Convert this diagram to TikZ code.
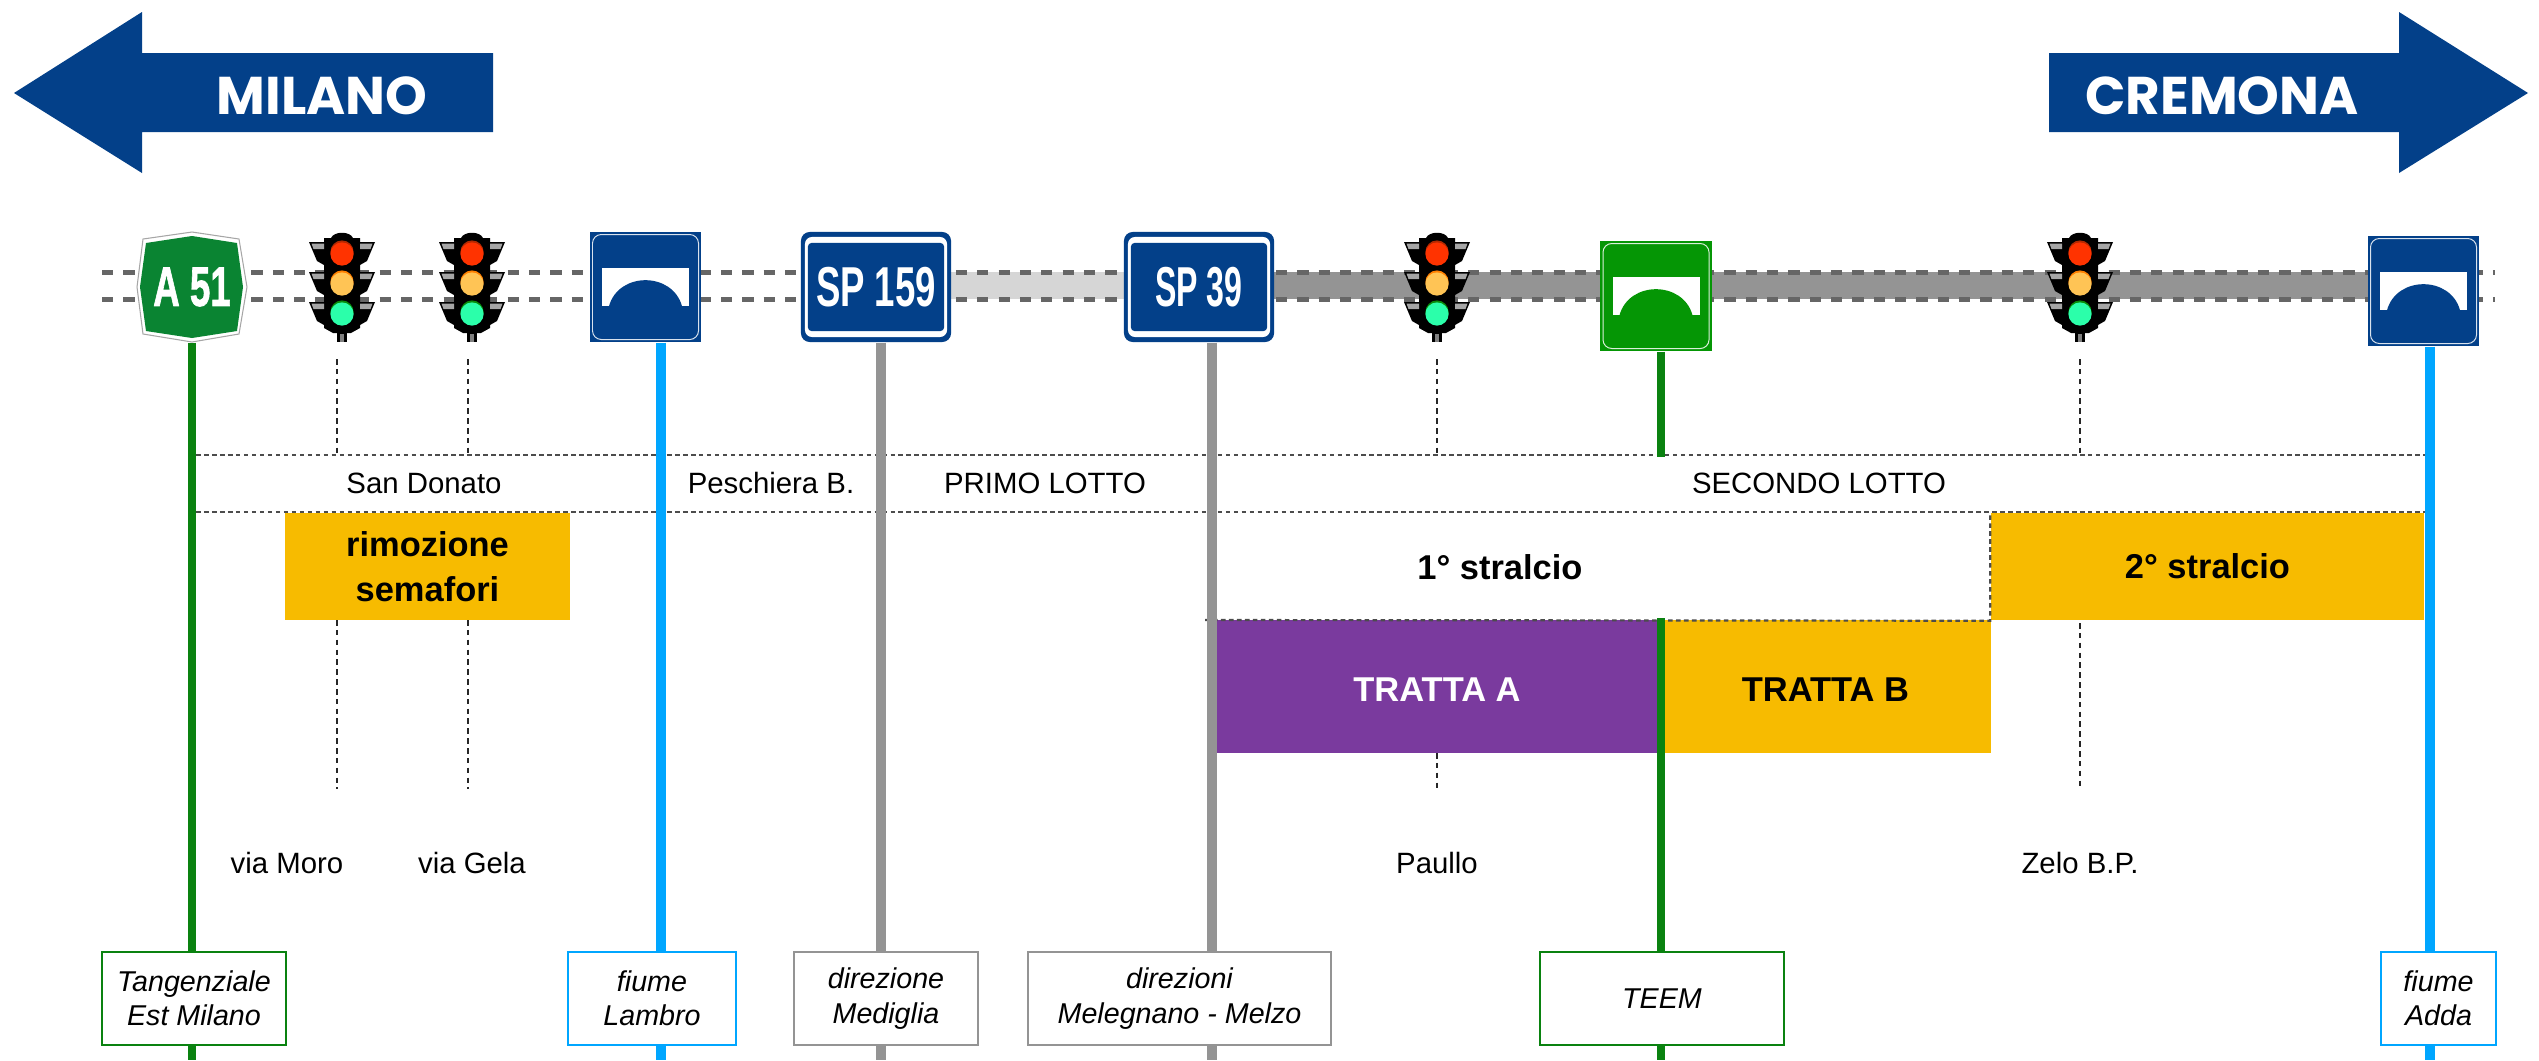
\documentclass[tikz,border=0pt]{standalone}
\usepackage{fontspec}
\setmainfont{Liberation Sans}
\newfontfamily\cityfont{Poppins}
\newfontfamily\heavyfont[BoldFeatures={FakeBold=1.6}]{Liberation Sans}
\definecolor{roadblue}{HTML}{034089}
\definecolor{signgreen}{HTML}{059605}
\definecolor{autogreen}{HTML}{0A8432}
\definecolor{linegreen}{HTML}{0A8210}
\definecolor{riverblue}{HTML}{00A6FF}
\definecolor{linegrey}{HTML}{949494}
\definecolor{bandlight}{HTML}{D6D6D6}
\definecolor{laneg}{HTML}{666666}
\definecolor{lotorange}{HTML}{F7BB00}
\definecolor{lotpurple}{HTML}{7A3A9E}
\definecolor{redlit}{HTML}{FF3300}
\definecolor{reddark}{HTML}{B32800}
\definecolor{amberlit}{HTML}{FFC455}
\definecolor{amberdark}{HTML}{FF8000}
\definecolor{greenlit}{HTML}{2BFFAA}
\definecolor{greendark}{HTML}{0A8A0A}
\newcommand{\stretto}[2]{\scalebox{#1}[1]{#2}}
\newcommand{\abbassa}[1]{\raisebox{-0.9pt}[\height][\depth]{#1}}
\tikzset{
  cityarrow/.style={fill=roadblue},
  citytext/.style={text=white,inner sep=0pt,font=\cityfont\bfseries\fontsize{15.1}{18}\selectfont},
  lane/.style={laneg,line width=1.42pt,dash pattern=on 3.2pt off 2.87pt},
  bridgesign/.style={fill=#1,minimum width=1.11cm,minimum height=1.10cm,inner sep=0pt},
  spsign/.style={fill=roadblue,rounded corners=2.5pt,minimum width=1.50cm,minimum height=1.10cm,inner sep=0pt,
    text=white,font=\bfseries\fontsize{16}{18}\selectfont,
    path picture={
      \fill[white,rounded corners=2pt] ([shift={(4,5)}]path picture bounding box.north west) rectangle ([shift={(-4,-5)}]path picture bounding box.south east);
      \fill[roadblue,rounded corners=1pt] ([shift={(7,11)}]path picture bounding box.north west) rectangle ([shift={(-7,-11)}]path picture bounding box.south east);
    }},
  lotbox/.style={fill=#1,inner sep=0pt,align=center,font=\bfseries\fontsize{9.8}{12.7}\selectfont},
  rowtext/.style={inner sep=0pt,font=\fontsize{8.35}{9.6}\selectfont},
  placebox/.style={draw=#1,fill=white,line width=0.7pt,inner sep=0pt,minimum height=0.93cm,align=center,font=\itshape\fontsize{8.15}{9.8}\selectfont},
  roadline/.style={draw=#1,line width=2.3pt},
  rowdots/.style={draw=black!70,line width=0.62pt,dash pattern=on 1.3pt off 0.97pt},
  townline/.style={draw=black!85,line width=0.42pt,dash pattern=on 1.6pt off 1.2pt},
  pics/semaforo/.style={code={
    \fill[black] (-18,-45) -- (-11,-45) .. controls (-8,-52) and (8,-52) .. (11,-45) -- (18,-45) -- (18,45) -- (9,50) -- (-9,50) -- (-18,45) -- cycle;
    \fill[black] (-5,50) rectangle (5,59);
    \fill[gray] (-2,51) rectangle (2,59);
    \foreach \ly/\lampdark/\lamplit in {-30/reddark/redlit,0/amberdark/amberlit,30/greendark/greenlit}{
      \foreach \side in {-1,1}{
        \fill[black] (\side*33,\ly-11) -- (\side*18,\ly-11) -- (\side*18,\ly+12) -- (\side*25,\ly+8) -- cycle;
        \fill[gray!70] (\side*30.5,\ly-9.5) -- (\side*18,\ly-9.5) -- (\side*18,\ly-4) -- (\side*28.5,\ly-4) -- cycle;
      }
      \fill[\lampdark] (0,\ly-1) circle (11.6);
      \fill[\lamplit] (0,\ly+1) circle (11.6);
    }
  }},
  pics/ponte/.style={code={
    \draw[white!85!#1,line width=0.28pt,rounded corners=2.5pt] (-53,-52.5) rectangle (53,52.5);
    \fill[white] (-43.5,-19) rectangle (43.5,19);
    \fill[#1] (-36.5,19.2) .. controls (-27,-15.5) and (27,-15.5) .. (36.5,19.2) -- cycle;
  }},
}

\begin{document}
\begin{tikzpicture}[x=0.01cm,y=-0.01cm]
\useasboundingbox (0,0) rectangle (2539,1060);
\fill[cityarrow] (14,93) -- (142,12) -- (142,53) -- (493,53) -- (493,132) -- (142,132) -- (142,173) -- cycle; % to Milano
\node[citytext] (milano) at (322,96) {MILANO};
\fill[cityarrow] (2528,93) -- (2399,12) -- (2399,53) -- (2049,53) -- (2049,132) -- (2399,132) -- (2399,173) -- cycle; % to Cremona
\node[citytext] (cremona) at (2222,96) {CREMONA};

\fill[bandlight] (951,272) rectangle (1124,299); % primo lotto
\fill[linegrey] (1274,272) rectangle (2368,299); % secondo lotto
\draw[lane] (102,272) -- (2495,272);
\draw[lane] (102,299) -- (2495,299);

\fill[white,draw=gray!70,line width=0.3pt] (192,232) -- (239,239) -- (247,287) -- (239,334) -- (192,342) -- (143,334) -- (137,287) -- (143,239) -- cycle; % A51 rim
\fill[autogreen] (192,236) -- (237,243) -- (243,287) -- (237,331) -- (192,338) -- (146,331) -- (140,287) -- (146,243) -- cycle;
\node[text=white,inner sep=0pt,minimum width=1.04cm,minimum height=1.10cm,font=\heavyfont\bfseries\fontsize{15.8}{18}\selectfont] (a51) at (192,287) {\stretto{0.66}{A 51}};
\node[bridgesign=roadblue] (lambro) at (645.5,287) {};
\pic at (645.5,287) {ponte=roadblue};
\node[spsign] (sp159) at (876,287) {\stretto{0.65}{SP 159}};
\node[spsign] (sp39) at (1199,287) {\stretto{0.57}{SP 39}};
\node[bridgesign=signgreen] (teem) at (1656,296) {};
\pic at (1656,296) {ponte=signgreen};
\node[bridgesign=roadblue] (adda) at (2423.5,291) {};
\pic at (2423.5,291) {ponte=roadblue};
\pic at (342,283) {semaforo}; % via Moro
\pic at (472,283) {semaforo}; % via Gela
\pic at (1437,283) {semaforo}; % Paullo
\pic at (2080,283) {semaforo}; % Zelo

\node[lotbox=lotorange,minimum width=2.85cm,minimum height=1.07cm] (rimozione) at (427.5,566.5) {rimozione\\semafori};
\node[lotbox=lotorange,minimum width=4.33cm,minimum height=1.07cm] (stralcio2) at (2207.5,566.5) {2° stralcio};
\node[lotbox=lotpurple,text=white,minimum width=4.42cm,minimum height=1.33cm] (trattaA) at (1437,686.5) {\abbassa{TRATTA A}};
\node[lotbox=lotorange,minimum width=3.33cm,minimum height=1.33cm] (trattaB) at (1824.5,686.5) {\abbassa{\hspace{0.5pt}TRATTA B}};
\node[lotbox=white] (stralcio1) at (1500,567) {1° stralcio};

\coordinate (rowW) at (196,455);
\coordinate (rowE) at (2435,455);
\draw[rowdots] (rowW) -- (rowE); % top of the row
\draw[rowdots] (rowW |- 0,512) -- (rowE |- 0,512); % bottom of the row
\draw[rowdots] (1205,620) -- (stralcio2.south west) -- (stralcio2.north west); % 1 stralcio

\node[rowtext] (sandonato) at (424,483) {San Donato};
\node[rowtext] (peschiera) at (771,483) {Peschiera B.};
\node[rowtext] (primo) at (1045,483) {PRIMO LOTTO};
\node[rowtext] (secondo) at (1819,483) {SECONDO LOTTO};
\node[rowtext] (viamoro) at (287,863) {via Moro};
\node[rowtext] (viagela) at (472,863) {via Gela};
\node[rowtext] (paullo) at (1437,863) {Paullo};
\node[rowtext] (zelo) at (2080,863) {Zelo B.P.};

\draw[townline] (337,359) -- (337,455);
\draw[townline] (468,359) -- (468,455);
\draw[townline] (1437,359) -- (1437,455);
\draw[townline] (2080,359) -- (2080,455);
\draw[townline] (337,620) -- (337,789);
\draw[townline] (468,620) -- (468,789);
\draw[townline] (1437,753) -- (1437,789);
\draw[townline] (2080,623) -- (2080,789);

\node[placebox=linegreen,minimum width=1.84cm] (tang) at (194,998.5) {Tangenziale\\Est Milano};
\node[placebox=riverblue,minimum width=1.68cm] (flambro) at (652,998.5) {fiume\\Lambro};
\node[placebox=linegrey,minimum width=1.84cm] (mediglia) at (886,998.5) {direzione\\Mediglia};
\node[placebox=linegrey,minimum width=3.03cm] (melzo) at (1179.5,998.5) {direzioni\\Melegnano - Melzo};
\node[placebox=linegreen,minimum width=2.44cm] (lteem) at (1662,998.5) {TEEM};
\node[placebox=riverblue,minimum width=1.15cm] (fadda) at (2438.5,998.5) {fiume\\Adda};

\coordinate (foottang) at (192,1060);
\coordinate (footlambro) at (661,1060);
\coordinate (footmediglia) at (881,1060);
\coordinate (footmelzo) at (1212,1060);
\coordinate (footteem) at (1661,1060);
\coordinate (footadda) at (2430,1060);
\coordinate (teemup) at (1661,457);
\coordinate (teemdown) at (1661,618);

\draw[roadline=linegreen] (a51.south -| foottang) -- (tang.north -| foottang);
\draw[roadline=linegreen] (tang.south -| foottang) -- (foottang);
\draw[roadline=riverblue,line width=2.83pt] (lambro.south -| footlambro) -- (flambro.north -| footlambro);
\draw[roadline=riverblue,line width=2.83pt] (flambro.south -| footlambro) -- (footlambro);
\draw[roadline=linegrey,line width=3.1pt] (sp159.south -| footmediglia) -- (mediglia.north -| footmediglia);
\draw[roadline=linegrey,line width=3.1pt] (mediglia.south -| footmediglia) -- (footmediglia);
\draw[roadline=linegrey,line width=3.1pt] (sp39.south -| footmelzo) -- (melzo.north -| footmelzo);
\draw[roadline=linegrey,line width=3.1pt] (melzo.south -| footmelzo) -- (footmelzo);
\draw[roadline=linegreen] (teem.south -| teemup) -- (teemup);
\draw[roadline=linegreen] (teemdown) -- (lteem.north -| footteem);
\draw[roadline=linegreen] (lteem.south -| footteem) -- (footteem);
\draw[roadline=riverblue,line width=3pt] (adda.south -| footadda) -- (fadda.north -| footadda);
\draw[roadline=riverblue,line width=3pt] (fadda.south -| footadda) -- (footadda);
\end{tikzpicture}
\end{document}
